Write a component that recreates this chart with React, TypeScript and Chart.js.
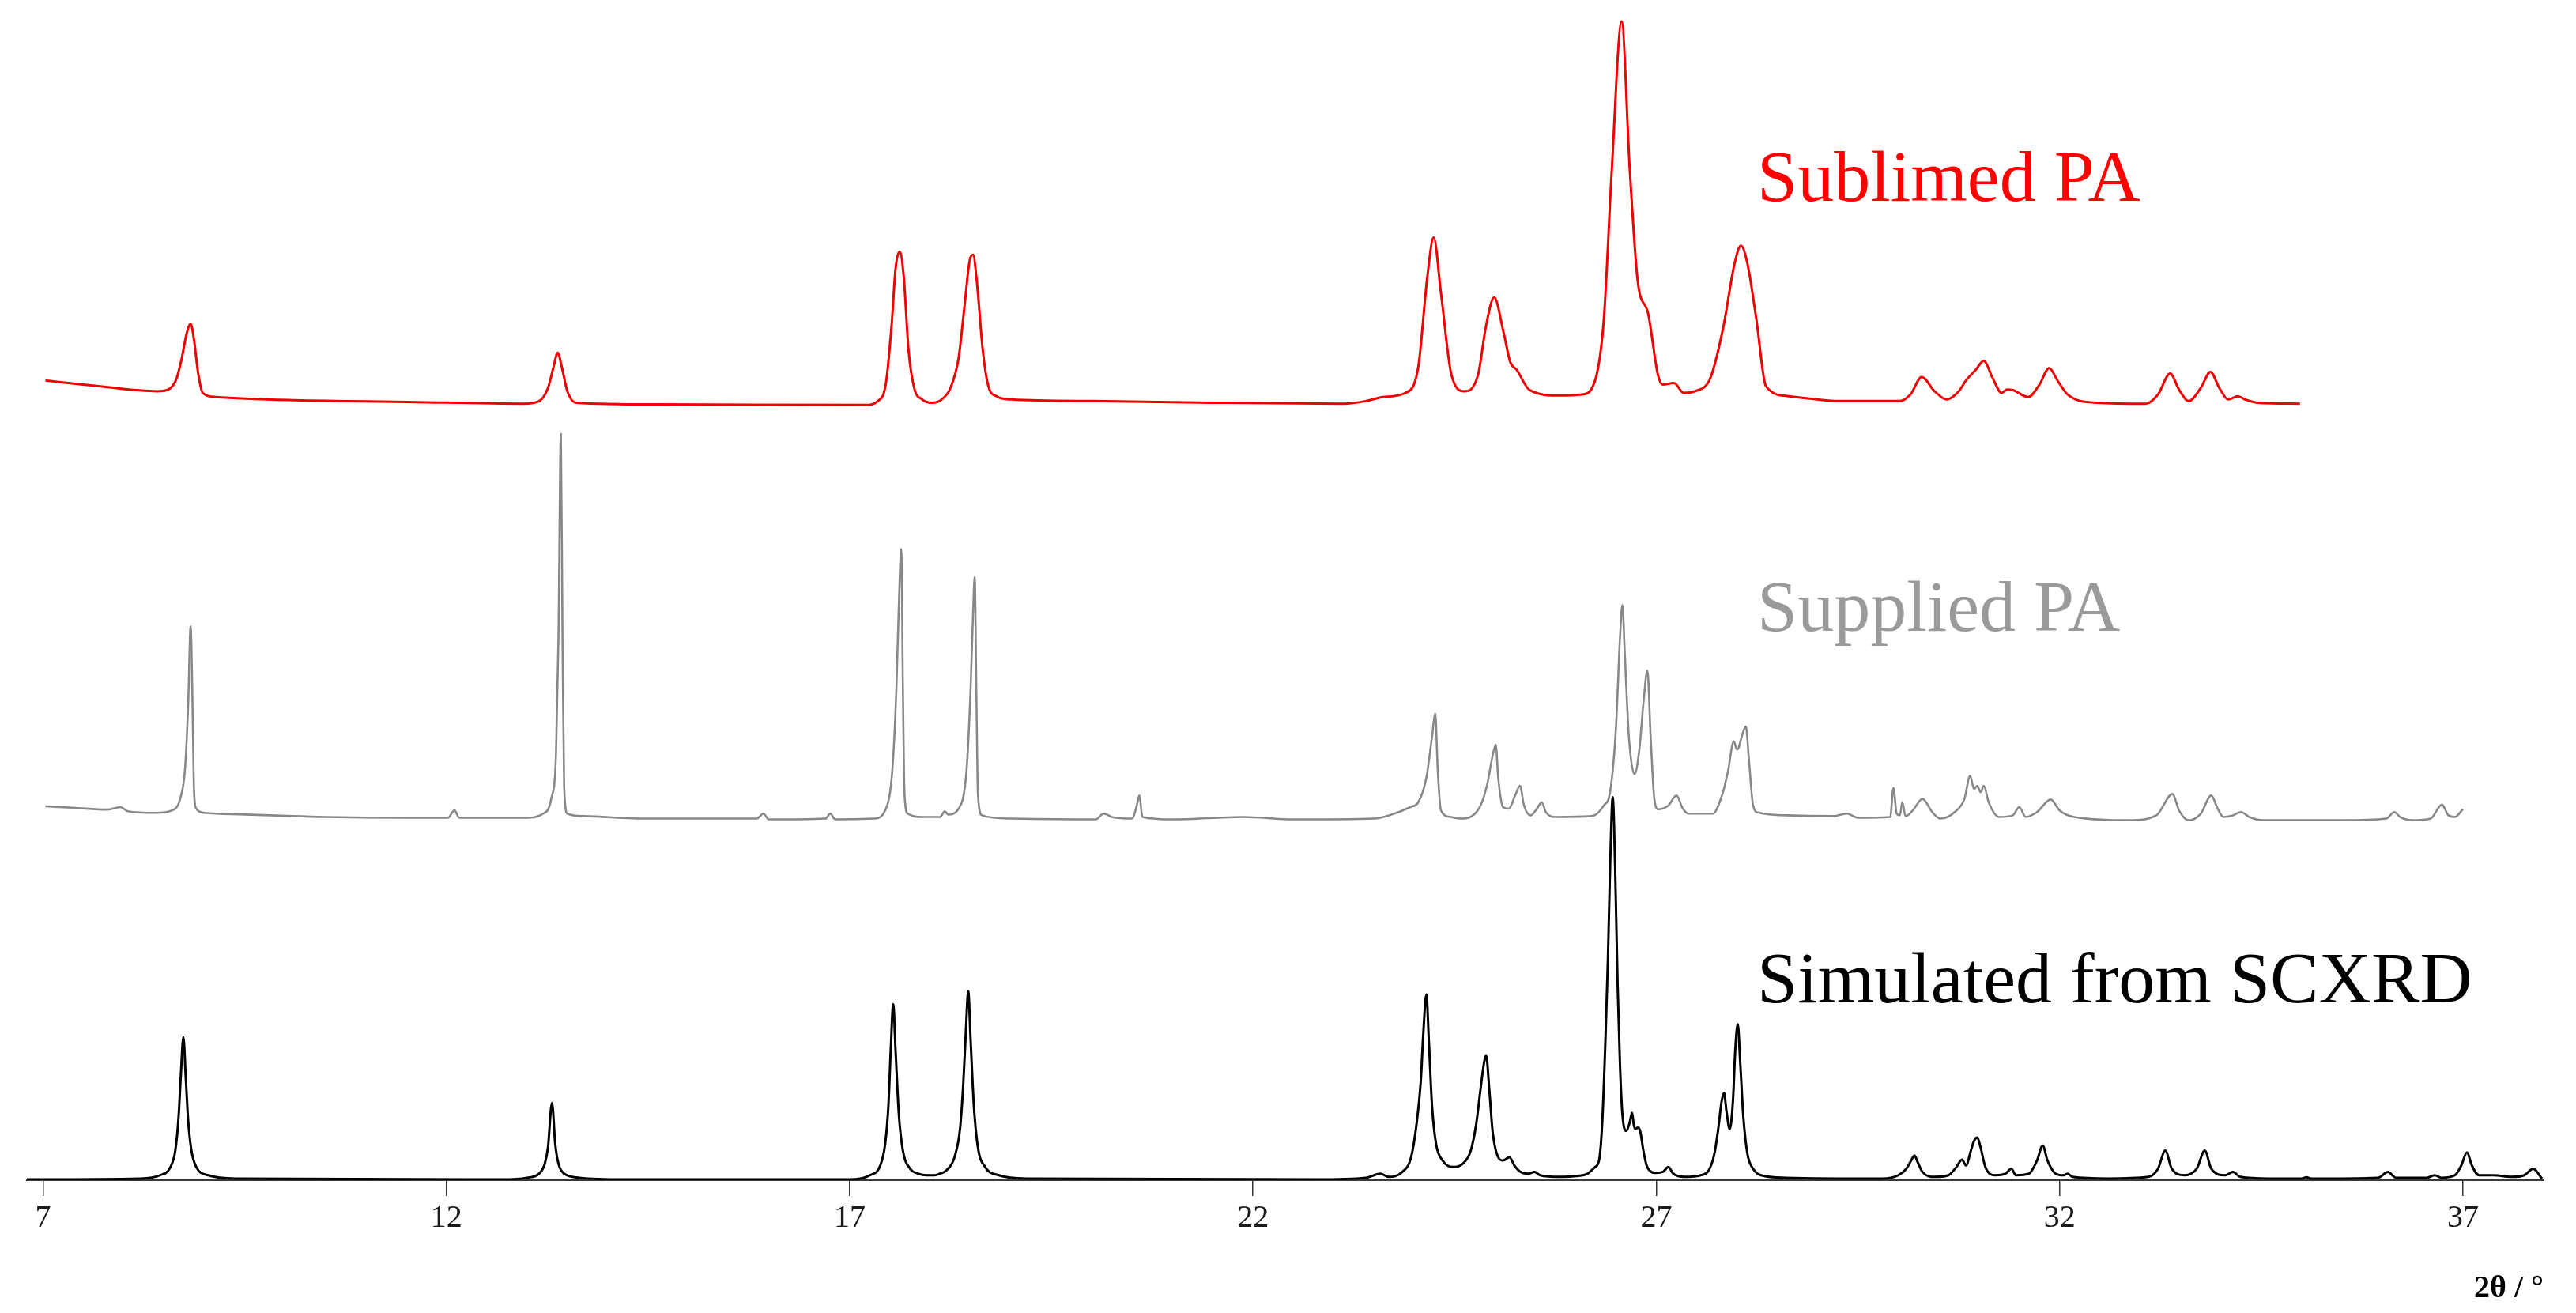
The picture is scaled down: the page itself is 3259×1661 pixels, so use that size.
import React, { useEffect, useRef } from "react";
import { Chart, registerables } from "chart.js";

Chart.register(...registerables);

// 2θ (degrees) vs stacked intensity (arbitrary units, traces offset vertically)
const tickValues: number[] = [7, 12, 17, 22, 27, 32, 37];
const xMin = 6.8;
const xMax = 38.0;
const yMin = 0;
const yMax = 718;

const simulatedPattern: [number, number][] = [
  [6.8, 0.5], [8.2, 1], [8.45, 3], [8.58, 8], [8.64, 18], [8.68, 38], [8.71, 65], [8.74, 87], [8.77, 62], [8.8, 36], [8.84, 18], [8.9, 8], [9.05, 3], [9.4, 1],
  [12.7, 0.5], [13.0, 1.5], [13.15, 4], [13.22, 10], [13.26, 20], [13.31, 47], [13.35, 22], [13.39, 10], [13.46, 4], [13.65, 1.5], [14.2, 0.5],
  [17.0, 0.5], [17.25, 3], [17.38, 9], [17.44, 22], [17.48, 45], [17.51, 80], [17.54, 107], [17.57, 78], [17.61, 40], [17.66, 18], [17.75, 7], [17.85, 4], [17.95, 3],
  [18.05, 3], [18.12, 4], [18.2, 6], [18.3, 14], [18.37, 32], [18.41, 60], [18.44, 90], [18.47, 115], [18.5, 85], [18.54, 45], [18.59, 20], [18.68, 8], [18.85, 3], [19.2, 1],
  [22.8, 0.5], [23.4, 1.5], [23.58, 4], [23.68, 2], [23.85, 5], [23.96, 14], [24.03, 35], [24.08, 60], [24.11, 88], [24.15, 113], [24.18, 85], [24.22, 45], [24.27, 22], [24.35, 12],
  [24.48, 8], [24.6, 10], [24.7, 18], [24.77, 35], [24.82, 55], [24.86, 70], [24.89, 76], [24.93, 55], [24.97, 30], [25.04, 14], [25.1, 12], [25.18, 14], [25.24, 9], [25.32, 5],
  [25.42, 4], [25.49, 5], [25.56, 3], [25.8, 2], [26.0, 2.5], [26.15, 4], [26.24, 8], [26.29, 12], [26.33, 35], [26.37, 86], [26.4, 134], [26.43, 195], [26.46, 233],
  [26.49, 190], [26.52, 120], [26.55, 70], [26.58, 40], [26.63, 30], [26.67, 35], [26.7, 41], [26.72, 34], [26.74, 31], [26.77, 32], [26.8, 30], [26.84, 18], [26.88, 9],
  [26.94, 5], [26.99, 4.5], [27.08, 5], [27.15, 8], [27.21, 4], [27.35, 2], [27.55, 3], [27.65, 6], [27.72, 16], [27.77, 32], [27.81, 48], [27.84, 53], [27.87, 42], [27.91, 31],
  [27.95, 48], [27.98, 80], [28.01, 95], [28.04, 72], [28.08, 38], [28.13, 16], [28.2, 7], [28.3, 3], [28.6, 1.5],
  [29.8, 1], [30.0, 3], [30.1, 7], [30.16, 12], [30.2, 15], [30.24, 11], [30.3, 5], [30.45, 2], [30.62, 3], [30.72, 8], [30.79, 12.5], [30.84, 9], [30.9, 18], [30.94, 24],
  [30.98, 26], [31.02, 20], [31.08, 8], [31.2, 3], [31.33, 4], [31.4, 7], [31.46, 3], [31.62, 4], [31.72, 12], [31.79, 21], [31.85, 12], [31.95, 4], [32.05, 3], [32.1, 4],
  [32.16, 2], [32.6, 1], [33.1, 2], [33.22, 7], [33.31, 18], [33.39, 7], [33.55, 3], [33.7, 7], [33.8, 18], [33.88, 7], [34.05, 3], [34.15, 5], [34.24, 2], [34.6, 1],
  [35.0, 1], [35.06, 1.8], [35.12, 1], [35.95, 1.5], [36.07, 5], [36.17, 1.5], [36.55, 1.5], [36.65, 3], [36.73, 1.5], [36.9, 3], [36.98, 9], [37.05, 17], [37.11, 9],
  [37.2, 3], [37.38, 3], [37.6, 2], [37.76, 3], [37.87, 7], [37.98, 1],
];

const suppliedPattern: [number, number][] = [
  [7.03, 227.5], [7.4, 226.5], [7.8, 225.5], [7.96, 227], [8.05, 224.5], [8.4, 223.5], [8.6, 225], [8.7, 232], [8.76, 250], [8.8, 290], [8.83, 337], [8.85, 300], [8.87, 240],
  [8.9, 226], [9.0, 223.5], [9.5, 222.5], [10.5, 221], [11.5, 220.5], [12.02, 220.5], [12.1, 225], [12.16, 220.5], [13.0, 220.5], [13.2, 223], [13.3, 232], [13.36, 260],
  [13.39, 330], [13.42, 454], [13.44, 330], [13.46, 240], [13.5, 223], [13.7, 221.5], [14.5, 220], [15.85, 220], [15.93, 223], [16.0, 219.5], [16.7, 220], [16.76, 223],
  [16.82, 219.5], [17.3, 220], [17.45, 226], [17.53, 250], [17.58, 300], [17.61, 350], [17.64, 384], [17.66, 300], [17.68, 235], [17.72, 223], [17.9, 221], [18.12, 221],
  [18.18, 224.5], [18.22, 222.5], [18.35, 226], [18.45, 250], [18.5, 300], [18.53, 345], [18.55, 367], [18.57, 300], [18.59, 235], [18.64, 222], [19.0, 220], [20.05, 219.5],
  [20.15, 223], [20.25, 221], [20.5, 220], [20.56, 228], [20.59, 234], [20.63, 221], [21.0, 219.5], [21.88, 221], [22.5, 219.5], [23.5, 220], [23.69, 222], [23.95, 227],
  [24.05, 230], [24.15, 245], [24.22, 270], [24.26, 284], [24.29, 250], [24.33, 225], [24.45, 221], [24.57, 220], [24.8, 226], [24.9, 240], [24.97, 258], [25.01, 265],
  [25.04, 245], [25.1, 227], [25.17, 226], [25.25, 234], [25.31, 240], [25.36, 228], [25.44, 222], [25.52, 226], [25.58, 230], [25.63, 224], [25.76, 221], [26.2, 221.5],
  [26.35, 228], [26.43, 237], [26.5, 275], [26.55, 330], [26.58, 350], [26.61, 320], [26.66, 270], [26.73, 247], [26.79, 262], [26.84, 290], [26.89, 310], [26.93, 270],
  [26.97, 235], [27.02, 225.7], [27.15, 228], [27.25, 234], [27.33, 226], [27.4, 223], [27.7, 223], [27.82, 235], [27.89, 249], [27.96, 267], [28.0, 262], [28.02, 263],
  [28.06, 270], [28.11, 276], [28.15, 255], [28.2, 228], [28.26, 223.7], [28.6, 222], [29.2, 221.5], [29.36, 223], [29.5, 220.5], [29.9, 221], [29.94, 238.6], [29.98, 223],
  [30.02, 222], [30.05, 230], [30.09, 221.5], [30.18, 225], [30.3, 232], [30.42, 224], [30.52, 220], [30.7, 224], [30.82, 232], [30.89, 246], [30.94, 238], [30.98, 240],
  [31.02, 236], [31.06, 240], [31.12, 230], [31.25, 221], [31.42, 222], [31.5, 227], [31.58, 221], [31.72, 224], [31.89, 231.6], [32.0, 225], [32.18, 221], [32.87, 219],
  [33.2, 222], [33.4, 235], [33.48, 225], [33.6, 219], [33.75, 223], [33.88, 234], [33.96, 226], [34.03, 221], [34.15, 222], [34.25, 224], [34.35, 221], [34.52, 219],
  [35.5, 219], [36.05, 220], [36.15, 224], [36.22, 221], [36.37, 219], [36.6, 220], [36.74, 228.5], [36.82, 222], [36.9, 221], [37.0, 225.7],
];

const sublimedPattern: [number, number][] = [
  [7.03, 486.6], [7.4, 484.5], [7.8, 482.5], [8.2, 480.5], [8.41, 480], [8.55, 481], [8.65, 487], [8.72, 500], [8.78, 515], [8.83, 521], [8.87, 512], [8.92, 492], [8.98, 479],
  [9.14, 476.5], [10.12, 474.5], [11.5, 473.5], [12.96, 472.4], [13.15, 474], [13.26, 482], [13.33, 495], [13.38, 503.4], [13.43, 495], [13.5, 480], [13.61, 473], [14.59, 472],
  [17.19, 471.6], [17.35, 474], [17.45, 485], [17.52, 520], [17.57, 555], [17.62, 565], [17.67, 550], [17.73, 505], [17.8, 482], [17.9, 475], [18.02, 473], [18.14, 475],
  [18.25, 482], [18.35, 500], [18.42, 530], [18.49, 560], [18.53, 563], [18.58, 545], [18.65, 505], [18.72, 483], [18.82, 477], [19.0, 475], [20.0, 474], [21.5, 473],
  [23.12, 472.4], [23.4, 474], [23.61, 476.5], [23.89, 479], [24.05, 495], [24.16, 549], [24.24, 573.6], [24.33, 540], [24.46, 490], [24.62, 480], [24.79, 490], [24.89, 520],
  [24.99, 537], [25.11, 515], [25.19, 497.6], [25.27, 493], [25.43, 480.7], [25.8, 477.4], [26.08, 478], [26.25, 488], [26.35, 524], [26.45, 616], [26.57, 705], [26.67, 616],
  [26.77, 547], [26.9, 527], [27.02, 490], [27.08, 484], [27.22, 485], [27.34, 479], [27.48, 480], [27.67, 488], [27.83, 518.7], [27.97, 557.6], [28.05, 568.5], [28.13, 557.6],
  [28.24, 524], [28.36, 483], [28.64, 477], [29.29, 474], [30.02, 474], [30.15, 478], [30.29, 488.6], [30.45, 480], [30.6, 475], [30.75, 480], [30.84, 486.6], [30.96, 493],
  [31.06, 498.5], [31.17, 488], [31.28, 479], [31.35, 481], [31.42, 480.7], [31.61, 476.5], [31.75, 484], [31.87, 494], [31.98, 486], [32.1, 478], [32.46, 473], [33.07, 472.4],
  [33.22, 478], [33.37, 490.8], [33.48, 481], [33.6, 474], [33.75, 482], [33.87, 491.7], [33.98, 482], [34.09, 475], [34.21, 477], [34.3, 475], [34.45, 473], [34.98, 472.4],
];

// Trace labels: text, 2θ position, intensity position, colour
const labelTexts: string[] = ["Sublimed PA", "Supplied PA", "Simulated from SCXRD"];
const labelX: number[] = [28.25, 28.25, 28.25];
const labelY: number[] = [596, 334, 108];
const labelColors: string[] = ["#ff0000", "#9a9a9a", "#000000"];

const axisTitle = "2θ / °";

const toPoints = (arr: [number, number][]) => arr.map(([x, y]) => ({ x, y }));

const seriesLabelPlugin = {
  id: "seriesLabels",
  afterDatasetsDraw(chart: any) {
    const { ctx, scales } = chart;
    ctx.save();
    ctx.font = '92px "Liberation Serif", "Times New Roman", serif';
    ctx.textBaseline = "alphabetic";
    ctx.textAlign = "left";
    labelTexts.forEach((t, i) => {
      ctx.fillStyle = labelColors[i];
      ctx.fillText(t, scales.x.getPixelForValue(labelX[i]), scales.y.getPixelForValue(labelY[i]));
    });
    ctx.restore();
  },
};

export default function App() {
  const canvasRef = useRef<HTMLCanvasElement | null>(null);

  useEffect(() => {
    document.body.style.margin = "0";
    const canvas = canvasRef.current;
    if (!canvas) return;
    const chart = new Chart(canvas, {
      type: "line",
      data: {
        datasets: [
          {
            label: "Simulated from SCXRD",
            data: toPoints(simulatedPattern),
            borderColor: "#000000",
            borderWidth: 3,
            pointRadius: 0,
            cubicInterpolationMode: "monotone",
          },
          {
            label: "Supplied PA",
            data: toPoints(suppliedPattern),
            borderColor: "#888888",
            borderWidth: 2.6,
            pointRadius: 0,
            cubicInterpolationMode: "monotone",
          },
          {
            label: "Sublimed PA",
            data: toPoints(sublimedPattern),
            borderColor: "#f00000",
            borderWidth: 3,
            pointRadius: 0,
            cubicInterpolationMode: "monotone",
          },
        ],
      },
      options: {
        responsive: false,
        animation: false,
        devicePixelRatio: 1,
        layout: { padding: { left: 34, right: 41, top: 0, bottom: 0 } },
        plugins: { legend: { display: false }, tooltip: { enabled: false } },
        scales: {
          x: {
            type: "linear",
            min: xMin,
            max: xMax,
            afterBuildTicks: (scale: any) => {
              scale.ticks = tickValues.map((v) => ({ value: v }));
            },
            afterFit: (scale: any) => {
              scale.height = 168;
            },
            ticks: {
              autoSkip: false,
              maxRotation: 0,
              padding: 4,
              color: "#1a1a1a",
              font: { family: '"Liberation Serif", "Times New Roman", serif', size: 40 },
              callback: (v: any) => String(v),
            },
            grid: {
              display: true,
              drawOnChartArea: false,
              drawTicks: true,
              tickLength: 20,
              color: "#333333",
              lineWidth: 1.5,
            },
            border: { display: true, color: "#3a3a3a", width: 2 },
            title: {
              display: true,
              text: axisTitle,
              align: "end",
              color: "#000000",
              font: { family: '"Liberation Serif", "Times New Roman", serif', size: 40, weight: "bold" },
              padding: { top: 0, bottom: 6 },
            },
          },
          y: {
            type: "linear",
            display: false,
            min: yMin,
            max: yMax,
          },
        },
      },
      plugins: [seriesLabelPlugin],
    });
    return () => chart.destroy();
  }, []);

  return <canvas ref={canvasRef} width={3259} height={1661} style={{ display: "block" }} />;
}
